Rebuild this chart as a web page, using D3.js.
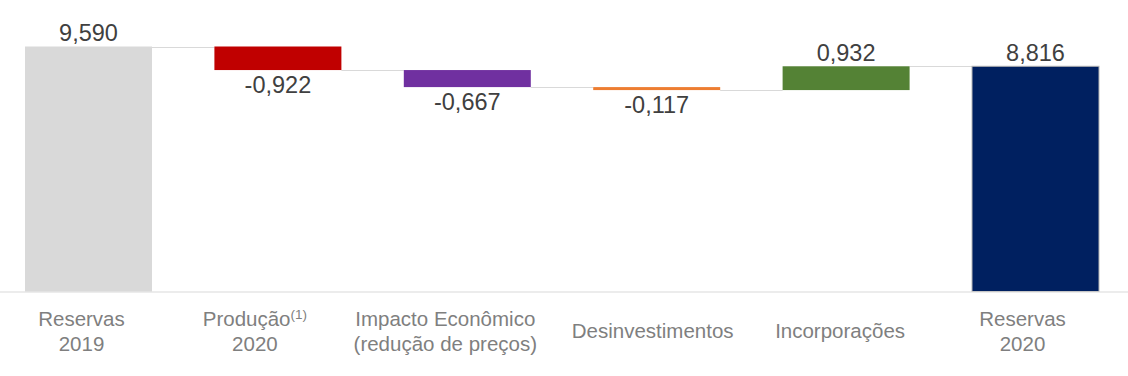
<!DOCTYPE html>
<html>
<head>
<meta charset="utf-8">
<script src="https://cdn.jsdelivr.net/npm/d3@7/dist/d3.min.js"></script>
<style>
  html, body { margin: 0; padding: 0; background: #ffffff; }
  svg { display: block; }
  text { font-family: "Liberation Sans", Arial, sans-serif; }
</style>
</head>
<body>
<svg id="chart" width="1128" height="376"></svg>
<script>
// ---- data ----
const categories = ["Reservas 2019", "Produção 2020", "Impacto Econômico", "Desinvestimentos", "Incorporações", "Reservas 2020"];
const labelLines = [
  ["Reservas", "2019"],
  ["Produção", "2020"],
  ["Impacto Econômico", "(redução de preços)"],
  ["Desinvestimentos"],
  ["Incorporações"],
  ["Reservas", "2020"]
];
const superscripts = ["", "(1)", "", "", "", ""];
const values = [9.590, -0.922, -0.667, -0.117, 0.932, 8.816];
const kinds = ["total", "delta", "delta", "delta", "delta", "total"];
const colors = ["#d9d9d9", "#c00000", "#7030a0", "#ed7d31", "#548235", "#002060"];

// ---- layout (label nudges, px) ----
const labelNudge = [-7, -23, -22, -4, -6, -13];

// ---- build waterfall steps ----
let running = 0;
const steps = values.map((v, i) => {
  let y0, y1;
  if (kinds[i] === "total") { y0 = 0; y1 = v; running = v; }
  else { y0 = running; y1 = running + v; running = y1; }
  return { cat: categories[i], v, y0, y1, end: running, kind: kinds[i], color: colors[i], i };
});

const W = 1128, H = 376;
const svg = d3.select("#chart");

const x = d3.scaleBand()
  .domain(categories)
  .range([0, 1124])
  .paddingInner(0.3295)
  .paddingOuter(0.132);

const y = d3.scaleLinear()
  .domain([0, 9.59])
  .range([291.5, 46.5]);

const fmt = d3.formatLocale({ decimal: ",", thousands: ".", grouping: [3], currency: ["", ""], minus: "-" }).format(".3f");

// connectors
svg.append("g").selectAll("line")
  .data(steps.slice(0, -1))
  .join("line")
  .attr("x1", d => x(d.cat) + x.bandwidth())
  .attr("x2", d => x(categories[d.i + 1]))
  .attr("y1", d => Math.round(y(d.end)) + 0.5)
  .attr("y2", d => Math.round(y(d.end)) + 0.5)
  .attr("stroke", "#d9d9d9")
  .attr("stroke-width", 1);

// bars
svg.append("g").selectAll("rect")
  .data(steps)
  .join("rect")
  .attr("x", d => x(d.cat))
  .attr("width", x.bandwidth())
  .attr("y", d => y(Math.max(d.y0, d.y1)))
  .attr("height", d => Math.abs(y(d.y0) - y(d.y1)))
  .attr("fill", d => d.color)
  .attr("stroke", d => d.i === steps.length - 1 ? "#b4b4b4" : "none")
  .attr("stroke-width", 1);

// axis baseline
const axis = d3.axisBottom(x).tickSize(0).tickFormat("");
const ax = svg.append("g").attr("transform", `translate(0,${y(0)})`).call(axis);
ax.select(".domain").attr("stroke", "#d9d9d9").attr("d", `M0,0.5H${W}`);

// value labels
svg.append("g").selectAll("text")
  .data(steps)
  .join("text")
  .attr("x", d => x(d.cat) + x.bandwidth() / 2)
  .attr("y", d => d.v >= 0 ? y(Math.max(d.y0, d.y1)) - 5.5 : y(Math.min(d.y0, d.y1)) + 23)
  .attr("text-anchor", "middle")
  .attr("font-size", "23.5px")
  .attr("fill", "#404040")
  .text(d => fmt(d.v));

// category labels
const catG = svg.append("g").selectAll("text")
  .data(steps)
  .join("text")
  .attr("text-anchor", "middle")
  .attr("font-size", "20.5px")
  .attr("fill", "#7f7f7f")
  .attr("y", d => labelLines[d.i].length === 1 ? 338 : 326);

catG.each(function(d) {
  const t = d3.select(this);
  const lines = labelLines[d.i];
  const cx = x(d.cat) + x.bandwidth() / 2 + labelNudge[d.i];
  lines.forEach((ln, k) => {
    const ts = t.append("tspan").attr("x", cx).attr("dy", k === 0 ? 0 : 24.5).text(ln);
    if (k === 0 && superscripts[d.i]) {
      ts.append("tspan").attr("font-size", "13.5px").attr("dy", -7).text(superscripts[d.i]);
    }
  });
  if (superscripts[d.i] && lines.length > 1) {
    t.selectAll(":scope > tspan").filter((_, k) => k === 1).attr("dy", 31.5);
  }
});
</script>
</body>
</html>
